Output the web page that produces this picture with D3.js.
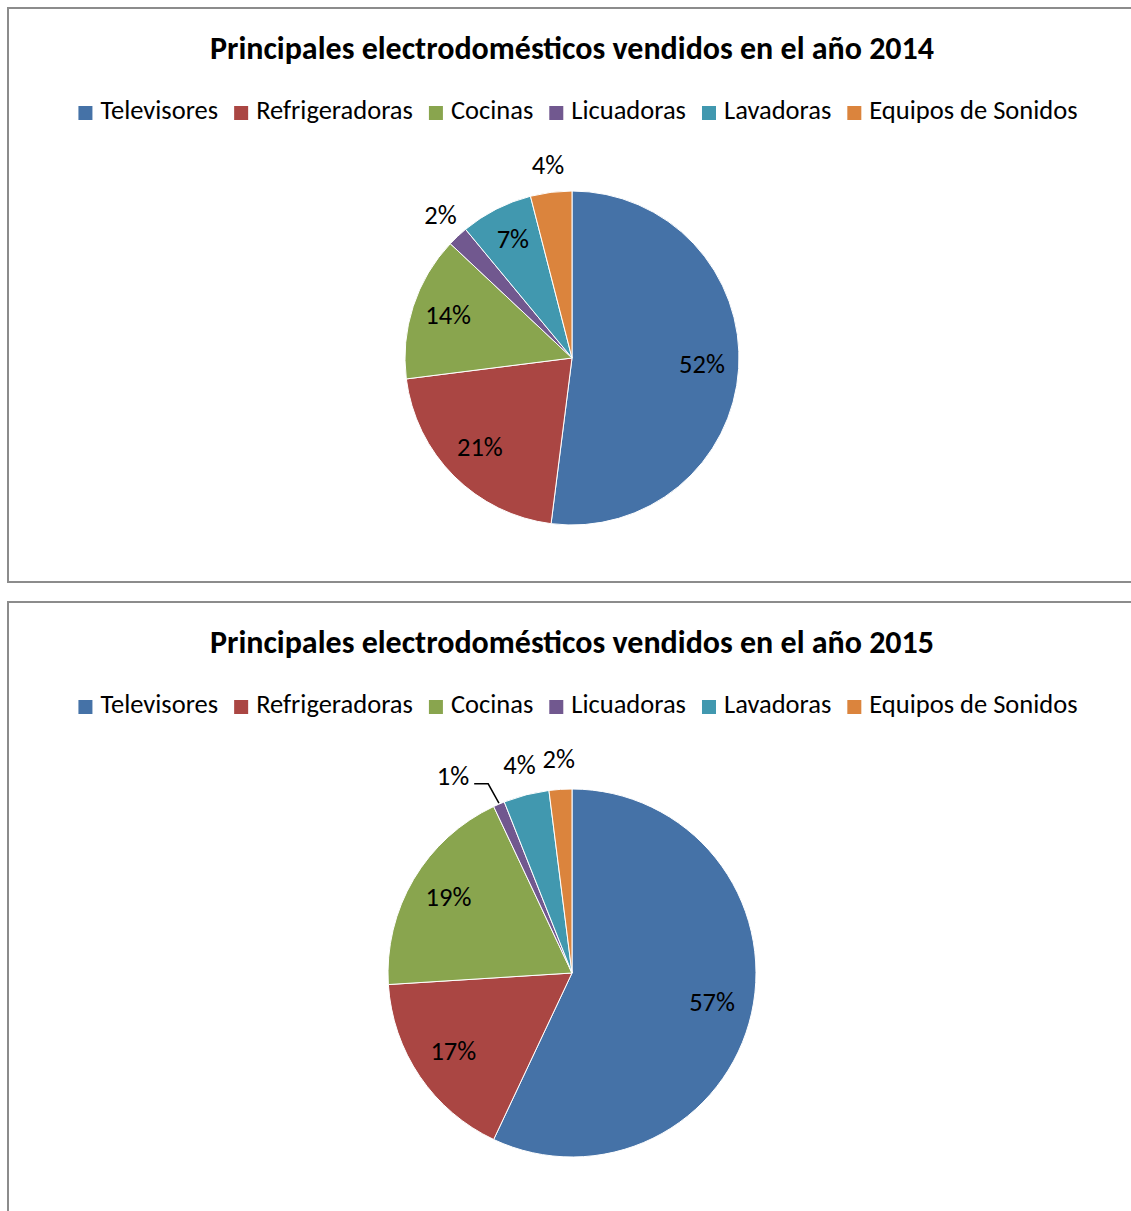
<!DOCTYPE html>
<html>
<head>
<meta charset="utf-8">
<script src="https://cdn.jsdelivr.net/npm/d3@7"></script>
<style>
  body { margin: 0; background: #fff; }
  svg text { font-family: Carlito, Calibri, Lato, "Open Sans", sans-serif; }
</style>
</head>
<body>
<div id="chart"></div>
<script>
// data
var categories = ['Televisores', 'Refrigeradoras', 'Cocinas', 'Licuadoras', 'Lavadoras', 'Equipos de Sonidos']
var years = [2014, 2015]
var values2014 = [52, 21, 14, 2, 7, 4]
var values2015 = [57, 17, 19, 1, 4, 2]
var colors = ['#4572A7', '#AA4643', '#89A54E', '#71588F', '#4198AF', '#DB843D']

// layout settings
var W = 1131
var H = 1211
var panels = [
  { year: years[0], values: values2014, top: 8, height: 574, radius: 167, cy: 350 },
  { year: years[1], values: values2015, top: 602, height: 640, radius: 184, cy: 371 }
]
var cx = 572
var titleSize = 32
var textSize = 26.5

var svg = d3.select('#chart')
  .append('svg')
  .attr('width', W)
  .attr('height', H)

var color = d3.scaleOrdinal().domain(categories).range(colors)

panels.forEach(function (p) {
  var g = svg.append('g').attr('transform', 'translate(0,' + p.top + ')')

  // chart frame
  g.append('rect')
    .attr('x', 8)
    .attr('y', 0)
    .attr('width', 1130)
    .attr('height', p.height)
    .attr('fill', 'none')
    .attr('stroke', '#8c8c8c')
    .attr('stroke-width', 2)

  g.append('text')
    .attr('x', cx)
    .attr('y', 43)
    .attr('text-anchor', 'middle')
    .attr('dominant-baseline', 'middle')
    .attr('font-size', titleSize)
    .attr('font-weight', 'bold')
    .text('Principales electrodomésticos vendidos en el año ' + p.year)

  // legend, measured then centred
  var legend = g.append('g').attr('transform', 'translate(0,105)')
  var items = legend.selectAll('g')
    .data(categories)
    .enter()
    .append('g')
  items.append('rect')
    .attr('width', 14)
    .attr('height', 14)
    .attr('y', -7)
    .attr('fill', function (d) { return color(d) })
  items.append('text')
    .attr('x', 22)
    .attr('dominant-baseline', 'middle')
    .attr('font-size', textSize)
    .attr('fill', '#000')
    .text(function (d) { return d })
  var xpos = 0
  var offsets = []
  items.each(function () {
    offsets.push(xpos)
    var tw = d3.select(this).select('text').node().getComputedTextLength()
    xpos += 22 + tw + 16
  })
  var total = xpos - 16
  var x0 = 578 - total / 2
  items.attr('transform', function (d, i) { return 'translate(' + (x0 + offsets[i]) + ',0)' })

  // pie
  var r = p.radius
  var pie = d3.pie().sort(null).value(function (d) { return d.value })
  var arcs = pie(categories.map(function (c, i) { return { name: c, value: p.values[i] } }))
  var arc = d3.arc().innerRadius(0).outerRadius(r)
  var inArc = d3.arc().innerRadius(r * 0.78).outerRadius(r * 0.78)
  var outArc = d3.arc().innerRadius(r * 1.15).outerRadius(r * 1.15)

  var pg = g.append('g').attr('transform', 'translate(' + cx + ',' + p.cy + ')')
  pg.selectAll('path')
    .data(arcs)
    .enter()
    .append('path')
    .attr('d', arc)
    .attr('fill', function (d) { return color(d.data.name) })
    .attr('stroke', '#fff')
    .attr('stroke-width', 1)

  // label positions: inside for big slices, outside for small ones
  var labels = arcs.map(function (d) {
    var inside = d.data.value >= 5
    var c = inside ? inArc.centroid(d) : outArc.centroid(d)
    return { d: d, inside: inside, x: c[0], y: c[1], shifted: false }
  })
  var lt = pg.selectAll('text')
    .data(labels)
    .enter()
    .append('text')
    .attr('text-anchor', 'middle')
    .attr('dominant-baseline', 'middle')
    .attr('font-size', textSize)
    .attr('fill', '#000')
    .text(function (l) { return l.d.data.value + '%' })
  lt.each(function (l) { l.w = this.getComputedTextLength() })

  // push overlapping outside labels to the left (walk from the last slice back)
  var outs = labels.filter(function (l) { return !l.inside })
  for (var i = outs.length - 2; i >= 0; i--) {
    var a = outs[i]
    var b = outs[i + 1]
    var gap = (b.x - b.w / 2) - (a.x + a.w / 2)
    if (gap < 0 && Math.abs(a.y - b.y) < 20) {
      a.x -= (8 - gap) + 26
      a.shifted = true
    }
  }
  lt.attr('x', function (l) { return l.x }).attr('y', function (l) { return l.y })

  // leader lines for shifted labels
  outs.filter(function (l) { return l.shifted }).forEach(function (l) {
    var edge = d3.arc().innerRadius(r).outerRadius(r).centroid(l.d)
    var sx = l.x + l.w / 2 + 5
    pg.append('polyline')
      .attr('points', [[sx, l.y + 5], [sx + 14, l.y + 5], [edge[0], edge[1] - 1]].join(' '))
      .attr('fill', 'none')
      .attr('stroke', '#000')
      .attr('stroke-width', 1.5)
  })
})
</script>
</body>
</html>
